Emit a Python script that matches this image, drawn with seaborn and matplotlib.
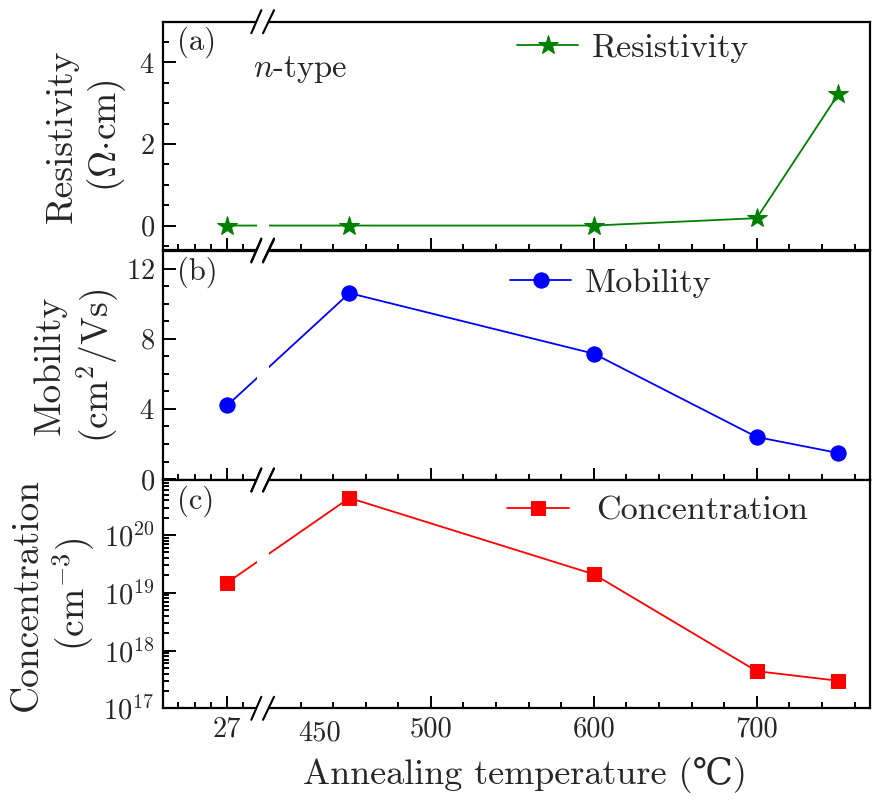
import numpy as np
import matplotlib
matplotlib.use("Agg")
import matplotlib.pyplot as plt
import seaborn as sns
import pandas as pd
from matplotlib.lines import Line2D
from matplotlib.patches import Polygon, Rectangle
from matplotlib.transforms import IdentityTransform, blended_transform_factory, ScaledTranslation
from matplotlib.ticker import MultipleLocator, LogLocator, FixedLocator

# ---------------- data ----------------
temps = [27, 450, 600, 700, 750]
resistivity = [0.0, 0.0, 0.0, 0.18, 3.22]
mobility = [4.2, 10.6, 7.15, 2.4, 1.49]
concentration = [1.5e19, 4.4e20, 2.1e19, 4.4e17, 3.0e17]

x_major_ticks = [27, 500, 600, 700]
x_major_labels = ["27", "500", "600", "700"]
x_minor_ticks = [-3, 7, 17, 37, 420, 440, 460, 480, 520, 540, 560, 580,
                 620, 640, 660, 680, 720, 740, 760]
a_yticks = [0, 2, 4]
b_yticks = [0, 4, 8, 12]

# ---------------- style ----------------
sns.set_theme(style="ticks")
plt.rcParams["font.family"] = ["cmr10", "DejaVu Serif", "DejaVu Sans"]
plt.rcParams["mathtext.fontset"] = "cm"
plt.rcParams["axes.unicode_minus"] = False
plt.rcParams["axes.formatter.use_mathtext"] = True

TICK_FS = 20.5
YLABEL_FS = 27
XLABEL_FS = 26
LEG_FS = 24.5
PANEL_FS = 22
NOTE_FS = 23.5

# ---------------- broken x scale ----------------
BRK_L, BRK_R, SHIFT = 48.0, 398.0, 348.0
_xp = [-1000.0, BRK_L, BRK_R, 5000.0]
_fp = [-1000.0 + SHIFT, BRK_L + SHIFT, BRK_R, 5000.0]


def fwd(t):
    return np.interp(t, _xp, _fp)


def inv(u):
    return np.interp(u, _fp, _xp)


df = pd.DataFrame({"T": temps, "R": resistivity, "M": mobility, "C": concentration})

fig = plt.figure(figsize=(8.8, 8), dpi=100)
L, W = 163 / 880, 707 / 880
ax_a = fig.add_axes([L, 1 - 250 / 800, W, 228.3 / 800])
ax_b = fig.add_axes([L, 1 - 480 / 800, W, 229 / 800])
ax_c = fig.add_axes([L, 1 - 708.3 / 800, W, 228.3 / 800])
axes = [ax_a, ax_b, ax_c]

sns.lineplot(data=df, x="T", y="R", ax=ax_a, color="#008000", marker="*",
             markersize=15, markeredgecolor="#008000", linewidth=1.3,
             label="Resistivity", sort=False)
sns.lineplot(data=df, x="T", y="M", ax=ax_b, color="#0000FF", marker="o",
             markersize=11, markeredgecolor="#0000FF", linewidth=1.3,
             label="Mobility", sort=False)
sns.lineplot(data=df, x="T", y="C", ax=ax_c, color="#FF0000", marker="s",
             markersize=9.5, markeredgecolor="#FF0000", linewidth=1.3,
             label="Concentration", sort=False)

for ax in axes:
    ax.set_xscale("function", functions=(fwd, inv))
    ax.set_xlim(-12.4, 769.5)
    ax.xaxis.set_major_locator(FixedLocator(x_major_ticks))
    ax.xaxis.set_minor_locator(FixedLocator(x_minor_ticks))
    ax.set_xticklabels(x_major_labels)
    ax.tick_params(axis="both", which="both", direction="in", top=False,
                   right=False, width=1.4, color="black",
                   labelsize=TICK_FS, pad=6)
    ax.tick_params(which="major", length=9)
    ax.tick_params(which="minor", length=4.5)
    for s in ax.spines.values():
        s.set_linewidth(1.6)
        s.set_color("black")
    ax.set_xlabel("")
    ax.set_facecolor("white")

ax_a.tick_params(labelbottom=False)
ax_b.tick_params(labelbottom=False)

# y axes
ax_a.set_ylim(-0.6, 5)
ax_a.set_yticks(a_yticks)
ax_a.yaxis.set_minor_locator(MultipleLocator(0.5))
ax_b.set_ylim(-0.05, 13)
ax_b.set_yticks(b_yticks)
ax_b.yaxis.set_minor_locator(MultipleLocator(1))
ax_c.set_yscale("log")
ax_c.set_ylim(1e17, 9e20)
ax_c.yaxis.set_major_locator(LogLocator(base=10, numticks=10))
ax_c.yaxis.set_minor_locator(LogLocator(base=10, subs=np.arange(2, 10), numticks=20))

ax_a.set_ylabel("Resistivity\n($\\Omega{\\cdot}$cm)", fontsize=YLABEL_FS, linespacing=1.2)
ax_b.set_ylabel("Mobility\n(cm$^2$/Vs)", fontsize=YLABEL_FS, linespacing=1.2)
ax_c.set_ylabel("Concentration\n(cm$^{-3}$)", fontsize=YLABEL_FS, linespacing=1.2)
ax_a.yaxis.set_label_coords(-0.05, 0.5)
ax_b.yaxis.set_label_coords(-0.06, 0.5)
ax_c.yaxis.set_label_coords(-0.093, 0.5)
ax_c.set_xlabel("Annealing temperature (℃)", fontsize=XLABEL_FS)
ax_c.xaxis.set_label_coords(0.512, -0.215)

# extra "450" label below the axis
t450 = blended_transform_factory(ax_c.transData, ax_c.transAxes) + \
    ScaledTranslation(0, -8.5 / 72, fig.dpi_scale_trans)
ax_c.text(432, 0, "450", transform=t450, ha="center", va="top", fontsize=TICK_FS)

# legends
leg_kw = dict(loc="center left", frameon=False, fontsize=LEG_FS, handlelength=1.8,
              borderpad=0, borderaxespad=0, numpoints=1)
ax_a.legend(bbox_to_anchor=(0.501, 0.885), handletextpad=0.4, **leg_kw)
ax_b.legend(bbox_to_anchor=(0.491, 0.86), handletextpad=0.4, **leg_kw)
ax_c.legend(bbox_to_anchor=(0.487, 0.864), handletextpad=0.8, **leg_kw)

# panel labels
for ax, lab in zip(axes, ["(a)", "(b)", "(c)"]):
    ax.text(0.02, 0.908, lab, transform=ax.transAxes, ha="left", va="center",
            fontsize=PANEL_FS, zorder=5)
ax_a.text(0.127, 0.759, "$n$-type", transform=ax_a.transAxes, ha="left",
          va="baseline", fontsize=NOTE_FS, zorder=5)

# axis break decorations
for ax in axes:
    xc = ax.transData.transform((220.0, 1.0))[0]
    bb = ax.bbox
    # gap in the data line
    ax.add_patch(Rectangle((xc - 6, bb.y0 + 3), 12, bb.height - 6,
                           transform=IdentityTransform(), facecolor="white",
                           edgecolor="none", zorder=2.2))
    for yb in (bb.y0, bb.y1):
        h = 11.5
        fig.add_artist(Polygon([(xc - 7.5, yb - 3.5), (xc + 5.0, yb - 3.5),
                                (xc + 7.0, yb + 3.5), (xc - 5.5, yb + 3.5)],
                               closed=True, transform=IdentityTransform(),
                               facecolor="white", edgecolor="none", zorder=3))
        fig.add_artist(Line2D([xc - 11.7, xc - 1.7], [yb - h, yb + h],
                              transform=IdentityTransform(), color="black",
                              lw=1.5, zorder=4))
        fig.add_artist(Line2D([xc + 0.0, xc + 11.0], [yb - h, yb + h],
                              transform=IdentityTransform(), color="black",
                              lw=1.5, zorder=4))

fig.savefig("out.png", dpi=100)
